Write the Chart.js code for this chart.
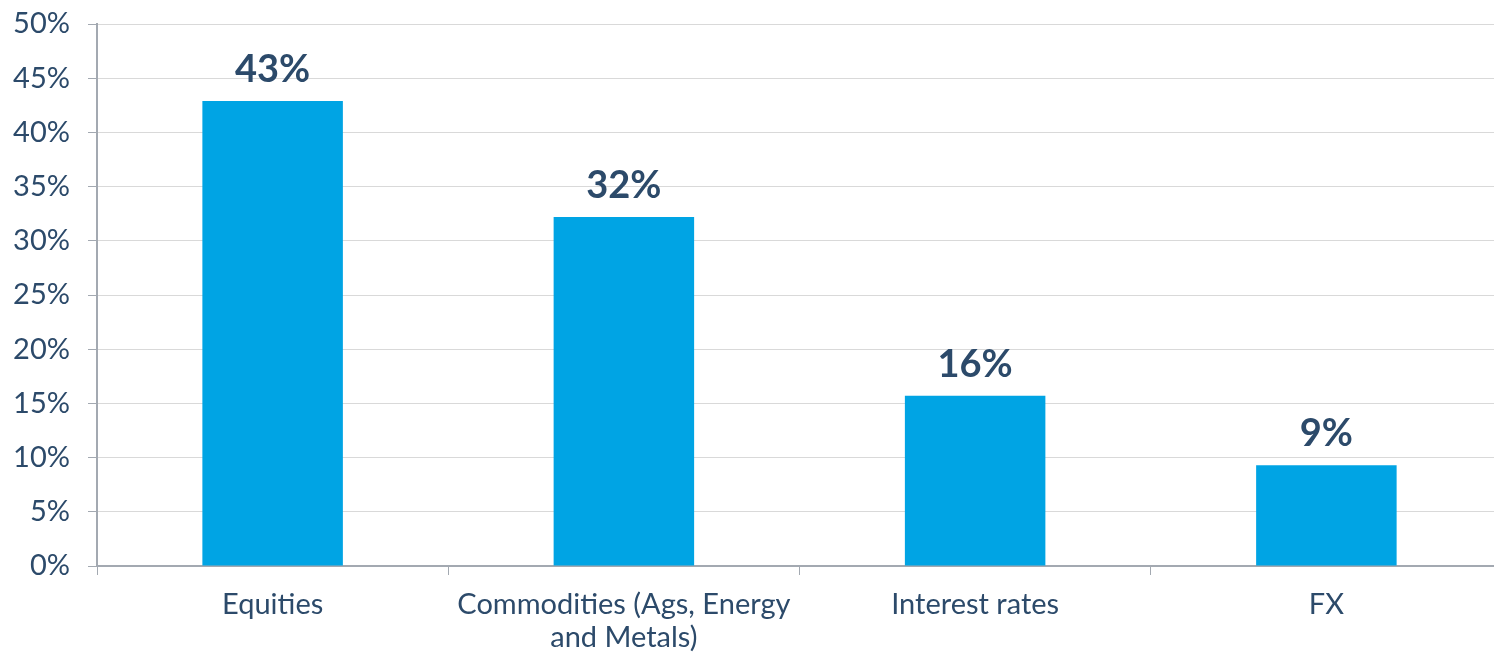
<!DOCTYPE html>
<html>
<head>
<meta charset="utf-8">
<script src="https://cdn.jsdelivr.net/npm/chart.js@4"></script>
<style>
    html, body { margin: 0; padding: 0; overflow: hidden; background: #fff; }
</style>
</head>
<body>
<canvas id="grafico" width="1502" height="670"></canvas>
<script>
// datos del grafico
const categorias = ['Equities', ['Commodities (Ags, Energy', 'and Metals)'], 'Interest rates', 'FX'];
const valores = [42.9, 32.2, 15.7, 9.3];
const etiquetas = ['43%', '32%', '16%', '9%'];
const ticksY = [0, 5, 10, 15, 20, 25, 30, 35, 40, 45, 50];

const colorTexto = '#2C4A6A';

// etiquetas encima de cada barra
const etiquetasBarras = {
    id: 'etiquetasBarras',
    afterDatasetsDraw(chart) {
        const ctx = chart.ctx;
        const meta = chart.getDatasetMeta(0);
        ctx.save();
        ctx.font = 'bold 38px Lato';
        ctx.fillStyle = colorTexto;
        ctx.textAlign = 'center';
        ctx.textBaseline = 'alphabetic';
        meta.data.forEach(function (bar, i) {
            ctx.fillText(etiquetas[i], bar.x, bar.y - 19);
        });
        ctx.restore();
    }
};

const ctx = document.getElementById('grafico').getContext('2d');
new Chart(ctx, {
    type: 'bar',
    data: {
        labels: categorias,
        datasets: [{
            data: valores,
            backgroundColor: '#00A4E4',
            borderWidth: 0,
            categoryPercentage: 1,
            barPercentage: 0.4
        }]
    },
    options: {
        responsive: false,
        animation: false,
        layout: { padding: { top: 24, left: 0, right: 0, bottom: 0 } },
        plugins: {
            legend: { display: false },
            tooltip: { enabled: false }
        },
        scales: {
            y: {
                min: 0,
                max: 50,
                afterBuildTicks: function (scale) {
                    scale.ticks = ticksY.map(function (v) { return { value: v }; });
                },
                afterFit: function (scale) {
                    scale.width = 97;
                    scale.paddingTop = 0;
                    scale.paddingBottom = 0;
                },
                ticks: {
                    color: colorTexto,
                    font: { family: 'Lato', size: 29 },
                    padding: 18,
                    callback: function (v) { return v + '%'; }
                },
                grid: { color: '#D9D9D9', tickColor: '#A3A9B1', tickLength: 9, lineWidth: 1 },
                border: { color: '#A3A9B1', width: 2 }
            },
            x: {
                afterFit: function (scale) { scale.height = 670 - 566; },
                ticks: {
                    color: colorTexto,
                    font: { family: 'Lato', size: 29, lineHeight: 1.15 },
                    padding: 13,
                    maxRotation: 0,
                    autoSkip: false
                },
                grid: { drawOnChartArea: false, drawTicks: true, tickLength: 9, color: '#A3A9B1', offset: true },
                border: { color: '#A3A9B1', width: 2 }
            }
        }
    },
    plugins: [etiquetasBarras]
});
</script>
</body>
</html>
